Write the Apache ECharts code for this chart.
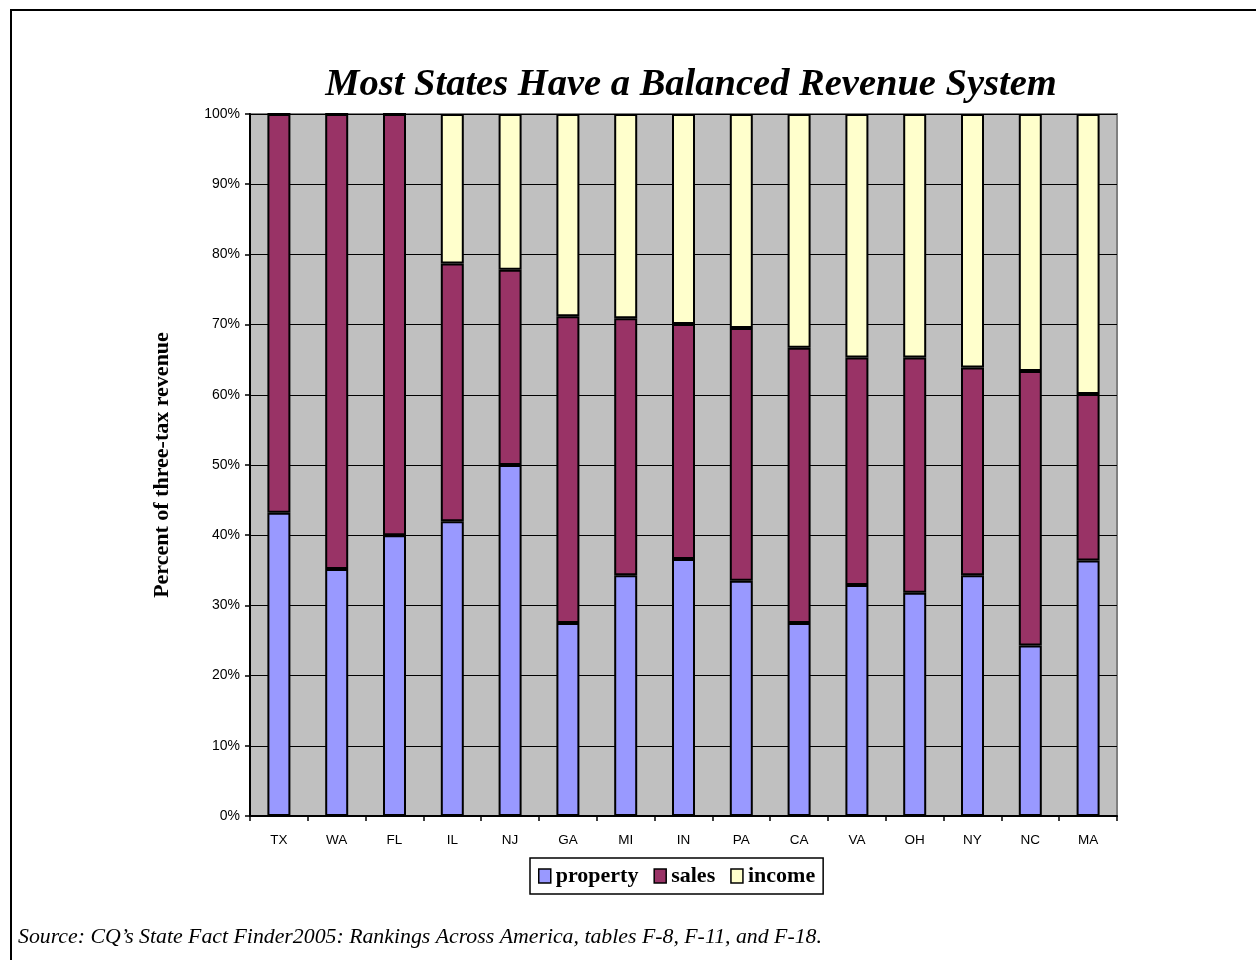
<!DOCTYPE html>
<html>
<head>
<meta charset="utf-8">
<script src="https://cdn.jsdelivr.net/npm/echarts@6/dist/echarts.min.js"></script>
<style>
html,body{margin:0;padding:0;background:#fff;}
#chart{width:1256px;height:960px;}
</style>
</head>
<body>
<div id="chart"></div>
<script>
const categories = ['TX','WA','FL','IL','NJ','GA','MI','IN','PA','CA','VA','OH','NY','NC','MA'];
const property = [43.2, 35.2, 40.0, 42.0, 50.0, 27.5, 34.3, 36.6, 33.5, 27.5, 32.9, 31.8, 34.3, 24.3, 36.4];
const sales    = [56.8, 64.8, 60.0, 36.7, 27.8, 43.7, 36.6, 33.5, 36.0, 39.2, 32.4, 33.5, 29.6, 39.1, 23.7];
const income   = [0, 0, 0, 21.3, 22.2, 28.8, 29.1, 29.9, 30.5, 33.3, 34.7, 34.7, 36.1, 36.6, 39.9];
const seriesNames = ['property','sales','income'];
const titleText = 'Most States Have a Balanced Revenue System';
const yAxisName = 'Percent of three-tax revenue';
const sourceText = 'Source: CQ\u2019s State Fact Finder2005: Rankings Across America, tables F-8, F-11, and F-18.';

const colors = ['#9999FF','#993366','#FFFFCC'];
const serif = '"Liberation Serif","Times New Roman",serif';
const sans = '"Liberation Sans",Arial,sans-serif';

const chart = echarts.init(document.getElementById('chart'), null, {renderer:'canvas'});
const dataSets = [property, sales, income];
const series = dataSets.map((d, i) => ({
  name: seriesNames[i],
  type: 'bar',
  stack: 'total',
  data: d,
  barWidth: 23,
  itemStyle: {color: colors[i], borderColor: '#000', borderWidth: 2},
  emphasis: {disabled: true},
  animation: false
}));

chart.setOption({
  animation: false,
  backgroundColor: '#fff',
  title: {
    text: titleText,
    left: 686,
    textAlign: 'center',
    top: 61,
    textStyle: {fontFamily: serif, fontSize: 38.5, fontWeight: 'bold', fontStyle: 'italic', color: '#000'}
  },
  grid: {
    left: 250, right: 139, top: 114, bottom: 144,
    show: true, backgroundColor: '#C0C0C0', borderColor: '#808080', borderWidth: 2
  },
  legend: {
    data: seriesNames,
    left: 530, top: 858,
    orient: 'horizontal',
    icon: 'rect',
    itemWidth: 12, itemHeight: 14, itemGap: 15,
    padding: [7, 8, 7, 8],
    borderColor: '#000', borderWidth: 1.5,
    itemStyle: {borderColor: '#000', borderWidth: 1.5},
    textStyle: {fontFamily: serif, fontSize: 22, fontWeight: 'bold', color: '#000'},
    selectedMode: false
  },
  xAxis: {
    type: 'category',
    data: categories,
    boundaryGap: true,
    axisLine: {lineStyle: {color: '#000', width: 2}},
    axisTick: {show: true, alignWithLabel: false, length: 5, lineStyle: {color: '#000', width: 1.5}},
    axisLabel: {fontFamily: sans, fontSize: 13.5, color: '#000', margin: 17}
  },
  yAxis: {
    type: 'value',
    min: 0, max: 100, interval: 10,
    name: yAxisName,
    nameLocation: 'middle',
    nameGap: 77,
    nameTextStyle: {fontFamily: serif, fontSize: 22, fontWeight: 'bold', color: '#000'},
    axisLine: {show: true, lineStyle: {color: '#000', width: 2}},
    axisTick: {show: true, length: 5, lineStyle: {color: '#000', width: 1.5}},
    axisLabel: {formatter: '{value}%', fontFamily: sans, fontSize: 14, color: '#000', margin: 10},
    splitLine: {show: true, lineStyle: {color: '#000', width: 1}}
  },
  series: series,
  graphic: [
    {type: 'rect', shape: {x: 11, y: 10, width: 1400, height: 1100}, style: {fill: 'none', stroke: '#000', lineWidth: 2}, silent: true, z: 100},
    {type: 'text', left: 18, top: 926, style: {text: sourceText, fontFamily: serif, fontSize: 21.8, fontStyle: 'italic', fill: '#000'}, silent: true}
  ]
});
</script>
</body>
</html>
